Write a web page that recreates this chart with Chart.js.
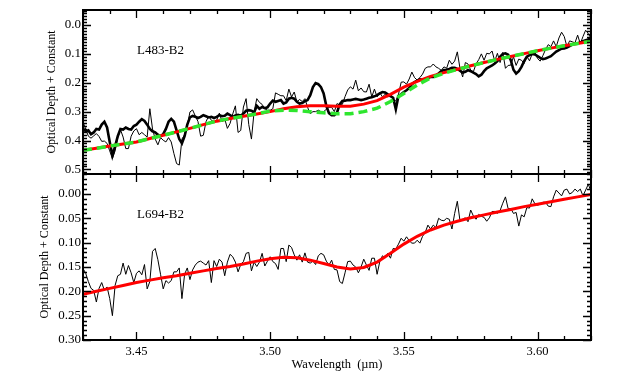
<!DOCTYPE html>
<html>
<head>
<meta charset="utf-8">
<script src="https://cdn.jsdelivr.net/npm/chart.js@4.4.1/dist/chart.umd.min.js"></script>
<style>
  body { margin: 0; background: #fff; }
  #wrap { position: relative; width: 629px; height: 379px; }
  canvas { position: absolute; left: 0; top: 0; }
</style>
</head>
<body>
<div id="wrap">
  <canvas id="topPanel" width="629" height="379"></canvas>
  <canvas id="bottomPanel" width="629" height="379"></canvas>
</div>
<script>
const FONT = "'Liberation Serif', 'Times New Roman', serif";
Chart.defaults.font.family = FONT;
Chart.defaults.color = "#000";

// wavelength grid of the spectra (micron)
const wave = [
  3.430, 3.431, 3.432, 3.433, 3.434, 3.435, 3.436, 3.437, 3.438, 3.439,
  3.440, 3.441, 3.442, 3.443, 3.444, 3.445, 3.446, 3.447, 3.448, 3.449,
  3.450, 3.451, 3.452, 3.453, 3.454, 3.455, 3.456, 3.457, 3.458, 3.459,
  3.460, 3.461, 3.462, 3.463, 3.464, 3.465, 3.466, 3.467, 3.468, 3.469,
  3.470, 3.471, 3.472, 3.473, 3.474, 3.475, 3.476, 3.477, 3.478, 3.479,
  3.480, 3.481, 3.482, 3.483, 3.484, 3.485, 3.486, 3.487, 3.488, 3.489,
  3.490, 3.491, 3.492, 3.493, 3.494, 3.495, 3.496, 3.497, 3.498, 3.499,
  3.500, 3.501, 3.502, 3.503, 3.504, 3.505, 3.506, 3.507, 3.508, 3.509,
  3.510, 3.511, 3.512, 3.513, 3.514, 3.515, 3.516, 3.517, 3.518, 3.519,
  3.520, 3.521, 3.522, 3.523, 3.524, 3.525, 3.526, 3.527, 3.528, 3.529,
  3.530, 3.531, 3.532, 3.533, 3.534, 3.535, 3.536, 3.537, 3.538, 3.539,
  3.540, 3.541, 3.542, 3.543, 3.544, 3.545, 3.546, 3.547, 3.548, 3.549,
  3.550, 3.551, 3.552, 3.553, 3.554, 3.555, 3.556, 3.557, 3.558, 3.559,
  3.560, 3.561, 3.562, 3.563, 3.564, 3.565, 3.566, 3.567, 3.568, 3.569,
  3.570, 3.571, 3.572, 3.573, 3.574, 3.575, 3.576, 3.577, 3.578, 3.579,
  3.580, 3.581, 3.582, 3.583, 3.584, 3.585, 3.586, 3.587, 3.588, 3.589,
  3.590, 3.591, 3.592, 3.593, 3.594, 3.595, 3.596, 3.597, 3.598, 3.599,
  3.600, 3.601, 3.602, 3.603, 3.604, 3.605, 3.606, 3.607, 3.608, 3.609,
  3.610, 3.611, 3.612, 3.613, 3.614, 3.615, 3.616, 3.617, 3.618, 3.619,
  3.620
];

// L483-B2, thin (high resolution) spectrum
const l483Thin = [
  0.336, 0.360, 0.385, 0.392, 0.384, 0.376, 0.386, 0.403, 0.402, 0.410,
  0.436, 0.463, 0.436, 0.390, 0.362, 0.388, 0.428, 0.428, 0.385, 0.367,
  0.359, 0.380, 0.372, 0.380, 0.388, 0.290, 0.360, 0.395, 0.415, 0.390,
  0.399, 0.405, 0.390, 0.405, 0.445, 0.480, 0.485, 0.395, 0.380, 0.350,
  0.301, 0.294, 0.315, 0.334, 0.385, 0.382, 0.335, 0.315, 0.330, 0.335,
  0.330, 0.305, 0.335, 0.325, 0.358, 0.341, 0.308, 0.280, 0.372, 0.365,
  0.284, 0.255, 0.345, 0.395, 0.300, 0.255, 0.268, 0.275, 0.290, 0.295,
  0.295, 0.290, 0.235, 0.240, 0.245, 0.245, 0.262, 0.222, 0.249, 0.232,
  0.266, 0.258, 0.265, 0.255, 0.285, 0.307, 0.300, 0.300, 0.295, 0.300,
  0.300, 0.292, 0.285, 0.285, 0.300, 0.272, 0.278, 0.275, 0.248, 0.225,
  0.214, 0.222, 0.191, 0.228, 0.218, 0.231, 0.232, 0.205, 0.249, 0.222,
  0.249, 0.234, 0.249, 0.240, 0.250, 0.237, 0.260, 0.263, 0.240, 0.198,
  0.197, 0.205, 0.187, 0.163, 0.182, 0.191, 0.182, 0.170, 0.150, 0.145,
  0.145, 0.135, 0.145, 0.150, 0.157, 0.145, 0.150, 0.122, 0.136, 0.125,
  0.093, 0.150, 0.180, 0.130, 0.135, 0.156, 0.162, 0.135, 0.120, 0.100,
  0.122, 0.098, 0.100, 0.090, 0.125, 0.098, 0.130, 0.095, 0.150, 0.140,
  0.139, 0.110, 0.140, 0.118, 0.122, 0.133, 0.108, 0.124, 0.100, 0.095,
  0.116, 0.125, 0.106, 0.085, 0.068, 0.075, 0.055, 0.075, 0.045, 0.025,
  0.040, 0.075, 0.055, 0.058, 0.062, 0.035, 0.065, 0.040, 0.018, 0.030,
  0.046
];

// L483-B2, thick spectrum
const l483Thick = [
  0.359, 0.368, 0.365, 0.378, 0.372, 0.360, 0.362, 0.345, 0.335, 0.355,
  0.405, 0.452, 0.420, 0.385, 0.360, 0.362, 0.355, 0.360, 0.362, 0.350,
  0.345, 0.335, 0.326, 0.332, 0.345, 0.360, 0.368, 0.372, 0.380, 0.385,
  0.378, 0.360, 0.335, 0.325, 0.335, 0.365, 0.395, 0.410, 0.385, 0.345,
  0.320, 0.315, 0.318, 0.322, 0.318, 0.312, 0.316, 0.320, 0.318, 0.322,
  0.318, 0.312, 0.316, 0.314, 0.307, 0.312, 0.318, 0.313, 0.311, 0.314,
  0.307, 0.297, 0.295, 0.297, 0.303, 0.280, 0.290, 0.284, 0.288, 0.285,
  0.272, 0.262, 0.266, 0.263, 0.260, 0.272, 0.268, 0.255, 0.252, 0.255,
  0.266, 0.272, 0.270, 0.264, 0.260, 0.243, 0.215, 0.201, 0.205, 0.215,
  0.237, 0.280, 0.305, 0.312, 0.312, 0.303, 0.275, 0.263, 0.262, 0.260,
  0.260, 0.258, 0.256, 0.258, 0.260, 0.258, 0.255, 0.252, 0.250, 0.247,
  0.243, 0.237, 0.232, 0.234, 0.240, 0.246, 0.252, 0.292, 0.245, 0.240,
  0.232, 0.226, 0.218, 0.205, 0.198, 0.193, 0.188, 0.190, 0.187, 0.183,
  0.180, 0.180, 0.176, 0.168, 0.160, 0.156, 0.155, 0.152, 0.148, 0.148,
  0.152, 0.158, 0.165, 0.162, 0.156, 0.160, 0.165, 0.170, 0.178, 0.172,
  0.160, 0.150, 0.145, 0.140, 0.133, 0.125, 0.110, 0.100, 0.098, 0.103,
  0.122, 0.155, 0.168, 0.160, 0.145, 0.125, 0.110, 0.104, 0.100, 0.102,
  0.108, 0.114, 0.118, 0.116, 0.112, 0.108, 0.100, 0.092, 0.087, 0.082,
  0.081, 0.078, 0.073, 0.068, 0.064, 0.064, 0.060, 0.056, 0.053, 0.050,
  0.046
];

// L694-B2 spectrum
const l694Thin = [
  0.153, 0.163, 0.180, 0.194, 0.198, 0.222, 0.194, 0.182, 0.198, 0.191,
  0.215, 0.250, 0.188, 0.168, 0.165, 0.142, 0.165, 0.147, 0.162, 0.182,
  0.163, 0.158, 0.166, 0.145, 0.195, 0.180, 0.118, 0.112, 0.135, 0.165,
  0.195, 0.178, 0.183, 0.178, 0.160, 0.160, 0.152, 0.215, 0.165, 0.152,
  0.176, 0.156, 0.146, 0.140, 0.138, 0.142, 0.146, 0.137, 0.182, 0.137,
  0.149, 0.134, 0.140, 0.168, 0.140, 0.124, 0.129, 0.140, 0.160, 0.145,
  0.139, 0.122, 0.120, 0.158, 0.140, 0.149, 0.140, 0.122, 0.148, 0.138,
  0.129, 0.139, 0.143, 0.155, 0.112, 0.112, 0.139, 0.105, 0.110, 0.125,
  0.136, 0.125, 0.140, 0.121, 0.140, 0.142, 0.138, 0.145, 0.127, 0.122,
  0.125, 0.138, 0.146, 0.136, 0.155, 0.156, 0.180, 0.184, 0.162, 0.139,
  0.138, 0.146, 0.150, 0.162, 0.150, 0.134, 0.146, 0.157, 0.132, 0.132,
  0.165, 0.139, 0.127, 0.131, 0.122, 0.132, 0.112, 0.113, 0.103, 0.091,
  0.097, 0.088, 0.096, 0.101, 0.101, 0.095, 0.101, 0.087, 0.079, 0.064,
  0.072, 0.064, 0.069, 0.050, 0.054, 0.055, 0.050, 0.052, 0.072, 0.040,
  0.015, 0.055, 0.052, 0.049, 0.057, 0.033, 0.045, 0.052, 0.042, 0.046,
  0.048, 0.056, 0.049, 0.036, 0.036, 0.040, 0.034, 0.019, 0.006, 0.030,
  0.030, 0.040, 0.038, 0.066, 0.043, 0.047, 0.028, 0.029, 0.010, 0.020,
  0.023, 0.021, 0.017, 0.017, 0.025, 0.026, 0.006, -0.008, -0.002, 0.004,
  -0.008, -0.010, 0.000, -0.003, -0.010, -0.005, -0.010, 0.004, -0.008, -0.020,
  -0.005
];

// model fits
const modelWave = [
  3.430, 3.435, 3.440, 3.445, 3.450, 3.455, 3.460, 3.465, 3.470, 3.475,
  3.480, 3.485, 3.490, 3.495, 3.500, 3.505, 3.510, 3.515, 3.520, 3.525,
  3.530, 3.535, 3.540, 3.545, 3.550, 3.555, 3.560, 3.565, 3.570, 3.575,
  3.580, 3.585, 3.590, 3.595, 3.600, 3.605, 3.610, 3.615, 3.620
];
const l483Red = [
  0.434, 0.427, 0.419, 0.412, 0.405, 0.393, 0.382, 0.370, 0.358, 0.345,
  0.333, 0.324, 0.316, 0.308, 0.300, 0.290, 0.283, 0.280, 0.280, 0.281,
  0.281, 0.274, 0.262, 0.240, 0.215, 0.195, 0.178, 0.165, 0.153, 0.141,
  0.130, 0.119, 0.109, 0.099, 0.089, 0.080, 0.072, 0.064, 0.056
];
const l483Green = [
  0.434, 0.427, 0.419, 0.412, 0.405, 0.393, 0.382, 0.370, 0.358, 0.345,
  0.333, 0.324, 0.316, 0.308, 0.298, 0.295, 0.296, 0.300, 0.304, 0.307,
  0.307, 0.300, 0.288, 0.265, 0.237, 0.208, 0.183, 0.167, 0.154, 0.141,
  0.130, 0.119, 0.109, 0.099, 0.089, 0.080, 0.072, 0.064, 0.056
];
const l694Red = [
  0.206, 0.200, 0.194, 0.188, 0.182, 0.177, 0.172, 0.168, 0.163, 0.158,
  0.153, 0.149, 0.144, 0.138, 0.133, 0.130, 0.131, 0.136, 0.143, 0.150,
  0.154, 0.151, 0.140, 0.122, 0.103, 0.087, 0.074, 0.064, 0.056, 0.049,
  0.043, 0.037, 0.032, 0.026, 0.021, 0.016, 0.011, 0.006, 0.001
];

const xMin = 3.43, xMax = 3.62;
const xTicks = [3.45, 3.50, 3.55, 3.60];
const yTicksTop = [0.0, 0.1, 0.2, 0.3, 0.4, 0.5];
const yTicksBottom = [0.00, 0.05, 0.10, 0.15, 0.20, 0.25, 0.30];

const pts = (xs, ys) => ys.map((v, i) => ({ x: xs[i], y: v }));

// IDL style frame with inward ticks on all four sides
function tickRun(ctx, scale, a, step, every, horiz, major, minor) {
  const k0 = Math.ceil(scale.min / step - 1e-6), k1 = Math.floor(scale.max / step + 1e-6);
  for (let k = k0; k <= k1; k++) {
    const len = k % every === 0 ? major : minor;
    const p = Math.round(scale.getPixelForValue(k * step)) + 0.5;
    if (horiz) {
      ctx.moveTo(p, a.bottom); ctx.lineTo(p, a.bottom - len);
      ctx.moveTo(p, a.top); ctx.lineTo(p, a.top + len);
    } else {
      ctx.moveTo(a.left, p); ctx.lineTo(a.left + len, p);
      ctx.moveTo(a.right, p); ctx.lineTo(a.right - len, p);
    }
  }
}

const frame = {
  id: "frame",
  afterDatasetsDraw(chart, args, o) {
    const { ctx, chartArea: a, scales: { x, y } } = chart;
    ctx.save();
    ctx.strokeStyle = "#000";
    ctx.lineWidth = 1.3;
    ctx.beginPath();
    tickRun(ctx, x, a, 0.01, 5, true, 8, 4);
    tickRun(ctx, y, a, 0.01, o.yEvery, false, 8, 4);
    ctx.stroke();
    ctx.lineWidth = 2;
    ctx.strokeRect(a.left, a.top, a.right - a.left, a.bottom - a.top);
    ctx.fillStyle = "#000";
    ctx.font = "13px " + FONT;
    ctx.textBaseline = "middle";
    ctx.fillText(o.label, o.lx, o.ly);
    ctx.restore();
  }
};

function makePanel(id, p) {
  return new Chart(document.getElementById(id), {
    type: "line",
    data: { datasets: p.datasets },
    options: {
      responsive: false,
      animation: false,
      events: [],
      layout: { padding: p.padding },
      elements: { point: { radius: 0 }, line: { tension: 0 } },
      plugins: { legend: { display: false }, tooltip: { enabled: false }, frame: p.frame },
      scales: {
        x: {
          type: "linear", min: xMin, max: xMax, display: p.showX,
          grid: { display: false, drawTicks: false }, border: { display: false },
          afterBuildTicks: s => { s.ticks = xTicks.map(v => ({ value: v })); },
          afterFit: s => { s.height = p.showX ? 39 : 0; },
          ticks: { font: { size: 12.5 }, padding: 4, maxRotation: 0, callback: v => v.toFixed(2) },
          title: { display: true, text: "Wavelength  (µm)", font: { size: 12.5 }, padding: { top: 0, bottom: 7 } }
        },
        y: {
          type: "linear", reverse: true, min: p.yMin, max: p.yMax,
          grid: { display: false, drawTicks: false }, border: { display: false },
          afterBuildTicks: s => { s.ticks = p.yTicks.map(v => ({ value: v })); },
          afterFit: s => { s.width = 83; },
          ticks: { font: { size: 13 }, padding: 2, callback: v => v.toFixed(p.dec) },
          title: { display: true, text: "Optical Depth + Constant", font: { size: 12 }, padding: { top: p.titlePad, bottom: 0 } }
        }
      }
    },
    plugins: [frame]
  });
}

makePanel("topPanel", {
  padding: { top: 10, right: 38, bottom: 205, left: 0 },
  showX: false, yMin: -0.052, yMax: 0.516, yTicks: yTicksTop, dec: 1, titlePad: 45,
  frame: { yEvery: 10, label: "L483-B2", lx: 137, ly: 51 },
  datasets: [
    { data: pts(modelWave, l483Green), borderColor: "#2ee62e", borderWidth: 3.5, borderDash: [9, 5] },
    { data: pts(modelWave, l483Red), borderColor: "#ff0000", borderWidth: 3 },
    { data: pts(wave, l483Thick), borderColor: "#000", borderWidth: 2.6 },
    { data: pts(wave, l483Thin), borderColor: "#000", borderWidth: 1 }
  ]
});

makePanel("bottomPanel", {
  padding: { top: 174, right: 38, bottom: 0, left: 0 },
  showX: true, yMin: -0.041, yMax: 0.30, yTicks: yTicksBottom, dec: 2, titlePad: 38,
  frame: { yEvery: 5, label: "L694-B2", lx: 137, ly: 215 },
  datasets: [
    { data: pts(modelWave, l694Red), borderColor: "#ff0000", borderWidth: 3 },
    { data: pts(wave, l694Thin), borderColor: "#000", borderWidth: 1 }
  ]
});
</script>
</body>
</html>
